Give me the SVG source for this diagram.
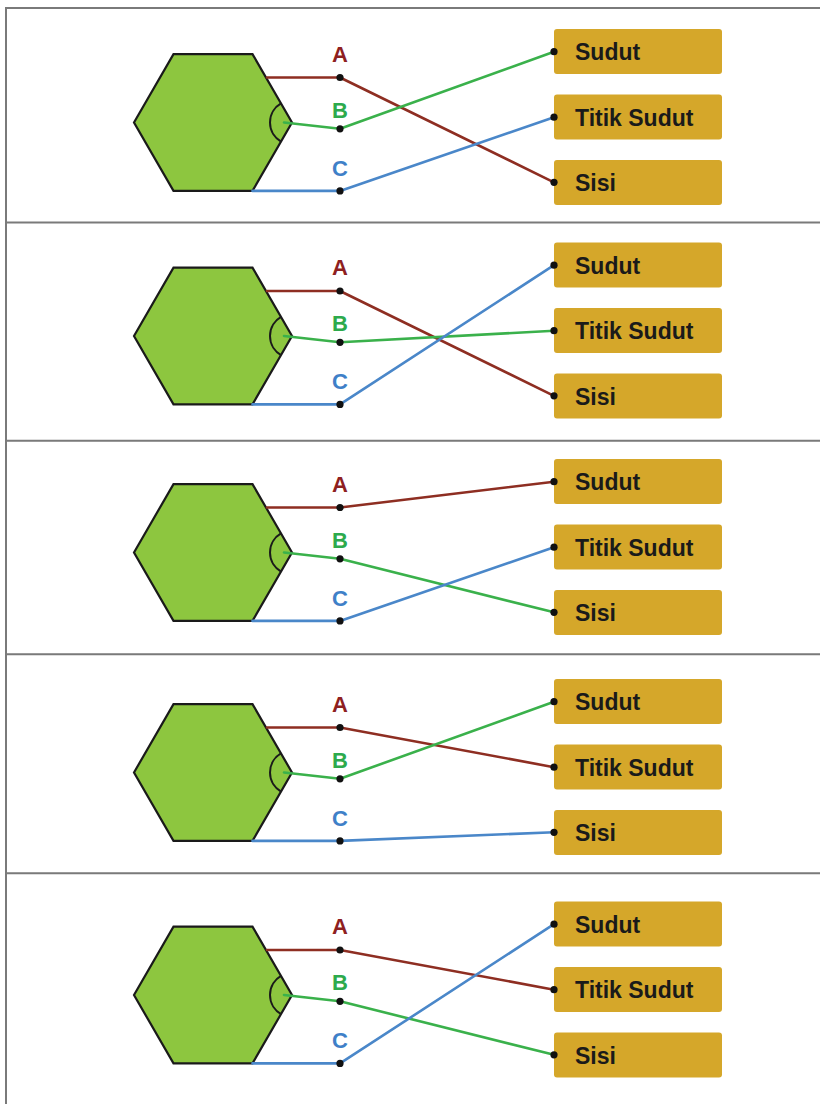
<svg xmlns="http://www.w3.org/2000/svg" xmlns:xlink="http://www.w3.org/1999/xlink" width="820" height="1104" viewBox="0 0 820 1104">
<style>
.frame{stroke:#7a7a7a;stroke-width:2;fill:none}
.hex{fill:#8DC63F;stroke:#1a1a1a;stroke-width:2.2;stroke-linejoin:miter}
.arc{fill:none;stroke:#1a1a1a;stroke-width:2}
.ln{fill:none;stroke-width:2.6;stroke-linejoin:round;stroke-linecap:round}
.ra{stroke:#8E2E22}.gb{stroke:#3AB14B}.bc{stroke:#4A87C9}
.dot{fill:#111}
.lbl{font-family:"Liberation Sans",Arial,sans-serif;font-weight:bold;font-size:22px;text-anchor:middle}
.la{fill:#8E2020}.lb{fill:#2DAA4C}.lc{fill:#3F80C8}
.box{fill:#D5A72A}
.bt{font-family:"Liberation Sans",Arial,sans-serif;font-weight:bold;font-size:23px;fill:#1a1a1a}
</style>
<defs>
<g id="hexshape">
<polygon class="hex" points="134,0 173.5,-68.4 252.5,-68.4 292,0 252.5,68.4 173.5,68.4"/>
<path class="arc" d="M281,-19.05 A22,22 0 0 0 281,19.05"/>
</g>
<g id="labels">
<text class="lbl la" x="340" y="-61">A</text>
<text class="lbl lb" x="340" y="-5">B</text>
<text class="lbl lc" x="340" y="53">C</text>
</g>
<g id="boxes">
<rect class="box" x="554" y="-93.5" width="168" height="45" rx="3"/>
<text class="bt" x="575" y="-62.5">Sudut</text>
<rect class="box" x="554" y="-28" width="168" height="45" rx="3"/>
<text class="bt" x="575" y="3">Titik Sudut</text>
<rect class="box" x="554" y="37.5" width="168" height="45" rx="3"/>
<text class="bt" x="575" y="68.5">Sisi</text>
</g>
<g id="dots">
<circle class="dot" cx="340" cy="-45" r="3.6"/>
<circle class="dot" cx="340" cy="6.3" r="3.6"/>
<circle class="dot" cx="340" cy="68.4" r="3.6"/>
<circle class="dot" cx="554" cy="-70.8" r="3.6"/>
<circle class="dot" cx="554" cy="-5.3" r="3.6"/>
<circle class="dot" cx="554" cy="59.8" r="3.6"/>
</g>
</defs>
<rect width="820" height="1104" fill="#fff"/>
<g id="frame">
<path class="frame" d="M6,1104 V8 H820 M6,222.5 H820 M6,440.7 H820 M6,654.3 H820 M6,873.3 H820"/>
</g>

<g id="panel1" transform="translate(0,122.5)">
<g id="p1-hexagon"><use xlink:href="#hexshape"/></g>
<g id="p1-options"><use xlink:href="#boxes"/></g>
<g id="p1-connectors">
<polyline class="ln ra" points="267,-45 340,-45 554,59.8"/>
<polyline class="ln gb" points="284,0 340,6.3 554,-70.8"/>
<polyline class="ln bc" points="252.5,68.4 340,68.4 554,-5.3"/>
<use xlink:href="#dots"/>
</g>
<g id="p1-labels"><use xlink:href="#labels"/></g>
</g>

<g id="panel2" transform="translate(0,336)">
<g id="p2-hexagon"><use xlink:href="#hexshape"/></g>
<g id="p2-options"><use xlink:href="#boxes"/></g>
<g id="p2-connectors">
<polyline class="ln ra" points="267,-45 340,-45 554,59.8"/>
<polyline class="ln gb" points="284,0 340,6.3 554,-5.3"/>
<polyline class="ln bc" points="252.5,68.4 340,68.4 554,-70.8"/>
<use xlink:href="#dots"/>
</g>
<g id="p2-labels"><use xlink:href="#labels"/></g>
</g>

<g id="panel3" transform="translate(0,552.5)">
<g id="p3-hexagon"><use xlink:href="#hexshape"/></g>
<g id="p3-options"><use xlink:href="#boxes"/></g>
<g id="p3-connectors">
<polyline class="ln ra" points="267,-45 340,-45 554,-70.8"/>
<polyline class="ln gb" points="284,0 340,6.3 554,59.8"/>
<polyline class="ln bc" points="252.5,68.4 340,68.4 554,-5.3"/>
<use xlink:href="#dots"/>
</g>
<g id="p3-labels"><use xlink:href="#labels"/></g>
</g>

<g id="panel4" transform="translate(0,772.5)">
<g id="p4-hexagon"><use xlink:href="#hexshape"/></g>
<g id="p4-options"><use xlink:href="#boxes"/></g>
<g id="p4-connectors">
<polyline class="ln ra" points="267,-45 340,-45 554,-5.3"/>
<polyline class="ln gb" points="284,0 340,6.3 554,-70.8"/>
<polyline class="ln bc" points="252.5,68.4 340,68.4 554,59.8"/>
<use xlink:href="#dots"/>
</g>
<g id="p4-labels"><use xlink:href="#labels"/></g>
</g>

<g id="panel5" transform="translate(0,995)">
<g id="p5-hexagon"><use xlink:href="#hexshape"/></g>
<g id="p5-options"><use xlink:href="#boxes"/></g>
<g id="p5-connectors">
<polyline class="ln ra" points="267,-45 340,-45 554,-5.3"/>
<polyline class="ln gb" points="284,0 340,6.3 554,59.8"/>
<polyline class="ln bc" points="252.5,68.4 340,68.4 554,-70.8"/>
<use xlink:href="#dots"/>
</g>
<g id="p5-labels"><use xlink:href="#labels"/></g>
</g>
</svg>
